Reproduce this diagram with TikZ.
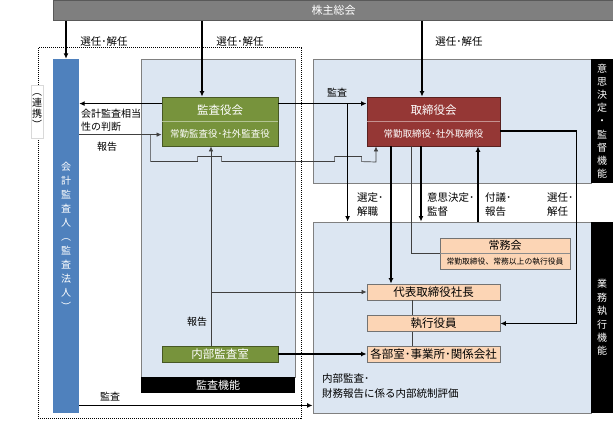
\documentclass[tikz,border=0pt]{standalone}
\usepackage{fontspec}
\setmainfont{Noto Sans CJK JP}
\usetikzlibrary{calc,arrows.meta}

\newcommand\fsz[2]{\fontsize{#1}{#2}\selectfont}

\definecolor{barGray}{HTML}{7F7F7F}
\definecolor{paleBlue}{HTML}{DCE6F2}
\definecolor{cpaBlue}{HTML}{4F81BD}
\definecolor{auditGreen}{HTML}{77933C}
\definecolor{boardRed}{HTML}{953735}
\definecolor{execPeach}{HTML}{FCD5B5}
\definecolor{lineGray}{HTML}{404040}

\begin{document}
\begin{tikzpicture}[x=1pt,y=-1pt,
  area/.style={draw=black!50,fill=paleBlue,line width=0.9pt,inner sep=0pt},
  blackbar/.style={fill=black,text=white,inner sep=0pt,align=center},
  orgbox/.style={draw=#1!60!black,fill=#1,line width=0.8pt,inner sep=0pt},
  peachbox/.style={draw=black!55,fill=execPeach,line width=0.8pt,inner sep=0pt,
    minimum width=133pt,minimum height=16pt,font=\fsz{11.5}{12}},
  thickarrow/.style={line width=1.6pt,-{Latex[length=5.5pt,width=5pt]}},
  thinarrow/.style={line width=0.7pt,draw=lineGray,-{Latex[length=5pt,width=4.5pt]}},
  thinline/.style={line width=0.7pt,draw=lineGray},
  lbl/.style={font=\fsz{10.5}{14},inner sep=0pt,align=left}]
  \fill[white] (0,0) rectangle (613,427);
  \useasboundingbox (0,0) rectangle (613,427);

  % areas
  \draw[line width=1pt,dash pattern=on 1pt off 1pt] (38,48) rectangle (301,418);
  \node[area,minimum width=154pt,minimum height=318pt] (kansaArea) at (218,218) {};
  \node[area,minimum width=278pt,minimum height=124pt] (ketteiArea) at (452,121) {};
  \node[area,minimum width=278pt,minimum height=191pt] (gyomu) at (452,317.5) {};
  \node[blackbar,minimum width=154pt,minimum height=16pt,font=\fsz{11}{12}] (kansakinou) at (218,385) {監査機能};
  \node[blackbar,minimum width=22pt,minimum height=124pt,font=\fsz{10}{13.2}] (kettei) at (602,121) {意\\思\\決\\定\\・\\監\\督\\機\\能};
  \node[blackbar,minimum width=22pt,minimum height=191pt,font=\fsz{10}{13.4}] (shikkoKinou) at (602,317.5) {業\\務\\執\\行\\機\\能};

  % boxes
  \node[fill=barGray,draw=black!65,line width=0.8pt,minimum width=561pt,minimum height=20pt,
    inner sep=0pt,text=white,font=\fsz{11}{12}] (kabunushi) at (333.5,10.5) {株主総会};
  \node[fill=cpaBlue,minimum width=26pt,minimum height=354pt,inner sep=0pt,text=white,
    align=center,font=\fsz{10}{14}] (cpa) at (66,236) {会\\計\\監\\査\\人\\︵\\監\\査\\法\\人\\︶};
  \node[fill=white,draw=black!15,line width=0.4pt,minimum width=12pt,minimum height=53pt,
    inner sep=0pt,align=center,font=\fsz{10}{11}] (renkei) at (37,111.5) {︵\\連\\携\\︶};

  \node[orgbox=auditGreen,minimum width=116pt,minimum height=49pt] (kansayakukai) at (220,121.5) {};
  \draw[auditGreen!55!white,line width=0.6pt] (kansayakukai.west) -- (kansayakukai.east);
  \node[text=white,font=\fsz{11.5}{12}] (kansaT) at ([yshift=11.5pt]kansayakukai.center) {監査役会};
  \node[text=white,font=\fsz{9.5}{10}] (kansaS) at ([yshift=-12.5pt]kansayakukai.center) {常勤監査役･社外監査役};

  \node[orgbox=boardRed,minimum width=133pt,minimum height=49pt] (torishimari) at (433.5,121.5) {};
  \draw[boardRed!55!white,line width=0.6pt] (torishimari.west) -- (torishimari.east);
  \node[text=white,font=\fsz{11.5}{12}] (toriT) at ([yshift=11.5pt]torishimari.center) {取締役会};
  \node[text=white,font=\fsz{9.5}{10}] (toriS) at ([yshift=-12.5pt]torishimari.center) {常勤取締役･社外取締役};

  \node[peachbox,minimum width=130pt,minimum height=31pt] (jomu) at (505,253.5) {};
  \draw[black!45,line width=0.6pt] (jomu.west) -- (jomu.east);
  \node[font=\fsz{11}{12}] (jomuT) at ([yshift=8.5pt]jomu.center) {常務会};
  \node[font=\fsz{7.8}{8}] (jomuS) at ([yshift=-8.5pt]jomu.center) {常勤取締役、常務以上の執行役員};

  \node[peachbox] (daihyo) at (433.5,292) {代表取締役社長};
  \node[peachbox] (shikko) at (433.5,323.5) {執行役員};
  \node[peachbox] (kakubu) at (433.5,354) {各部室･事業所･関係会社};
  \node[orgbox=auditGreen,minimum width=116pt,minimum height=16pt,text=white,
    font=\fsz{11.5}{12}] (naibu) at (220,354) {内部監査室};

  % shareholders
  \coordinate (k1) at ([xshift=-18pt]kansayakukai.north);
  \coordinate (t1) at ([xshift=-11.5pt]torishimari.north);
  \draw[thickarrow] (kabunushi.south -| cpa.north) -- (cpa.north);
  \draw[thickarrow] (kabunushi.south -| k1) -- (k1);
  \draw[thickarrow] (kabunushi.south -| t1) -- (t1);
  \node[lbl] at (104,42) {選任･解任};
  \node[lbl] at (240,42) {選任･解任};
  \node[lbl] at (459,42) {選任･解任};

  % audit
  \coordinate (kL) at ([yshift=-7pt]kansayakukai.north west);
  \coordinate (kR) at ([yshift=-38pt]kansayakukai.north west);
  \coordinate (j1) at ([xshift=-11pt]kR);
  \coordinate (t3) at ([xshift=-57.5pt]torishimari.south);
  \draw[thickarrow] (kL) -- (kL -| cpa.east);
  \draw[thinarrow] (cpa.east |- kR) -- (kR);
  \draw[thinarrow] (j1) -- ++(0,27) -- ++(47,0) -- ++(0,-5) -- ++(24,0) -- ++(0,5)
    -- ++(113,0) -- ++(0,-5) -- ++(27,0) -- ++(0,5) -- (t3 |- 0,162) -- (t3);
  \node[lbl,anchor=west,font=\fsz{10}{13}] at (81,120.5) {会計監査相当\\性の判断};
  \node[lbl,font=\fsz{10}{12}] at (107,147) {報告};

  \coordinate (sj) at ([xshift=-19pt,yshift=-7pt]torishimari.north west);
  \draw[thickarrow] ([yshift=-7pt]kansayakukai.north east) -- ([yshift=-7pt]torishimari.north west);
  \draw[thickarrow] (sj) -- (sj |- gyomu.north);
  \node[lbl,font=\fsz{10}{12}] at (337,93) {監査};

  \draw[thinarrow] ([xshift=-9pt]naibu.north) -- ([xshift=-9pt]kansayakukai.south);
  \draw[thinarrow] ([xshift=-9pt]naibu.north |- daihyo.west) -- (daihyo.west);
  \node[lbl,font=\fsz{10}{12}] at (197,322) {報告};
  \draw[thickarrow] (naibu.east) -- (kakubu.west);

  \coordinate (g1) at ([yshift=8pt]gyomu.south west);
  \draw[thickarrow] (cpa.east |- g1) -- (g1);
  \node[lbl,font=\fsz{10}{12}] at (110,397) {監査};

  % board
  \draw[thickarrow] ([xshift=-42.5pt]torishimari.south) -- ([xshift=-42.5pt]daihyo.north);
  \draw[thinline] ([xshift=-22.5pt]torishimari.south) |- (jomu.west);
  \draw[thickarrow] ([xshift=-12.5pt]torishimari.south) -- ([xshift=-12.5pt]torishimari.south |- gyomu.north);
  \draw[thickarrow] ([xshift=44.5pt]torishimari.south |- gyomu.north) -- ([xshift=44.5pt]torishimari.south);
  \draw[thickarrow] ([yshift=-9.5pt]torishimari.east) -- ++(76,0) |- (shikko.east);
  \draw[thinline] ([xshift=-21.5pt]daihyo.south) -- ([xshift=-21.5pt]shikko.north);
  \draw[thinline] ([xshift=-21.5pt]shikko.south) -- ([xshift=-21.5pt]kakubu.north);
  \node[lbl,anchor=west] at (357,205) {選定･\\解職};
  \node[lbl,anchor=west] at (427,205) {意思決定･\\監督};
  \node[lbl,anchor=west] at (485,205) {付議･\\報告};
  \node[lbl,anchor=west] at (547,205) {選任･\\解任};
  \node[lbl,anchor=west,font=\fsz{10.5}{15}] at (322,386.5) {内部監査･\\財務報告に係る内部統制評価};
\end{tikzpicture}
\end{document}
